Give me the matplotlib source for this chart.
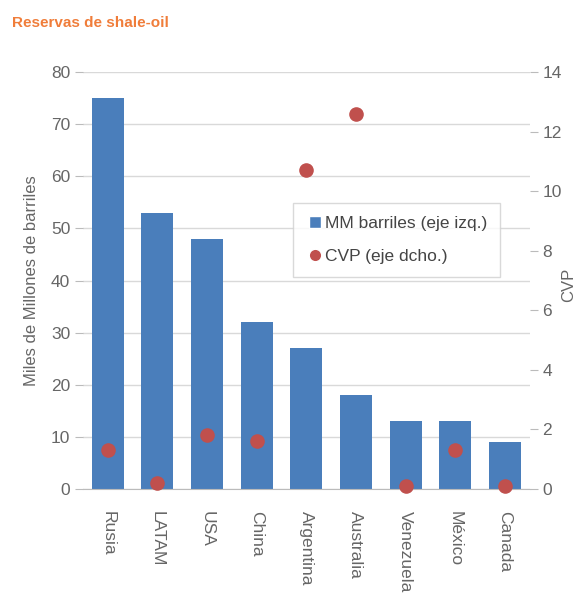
import matplotlib
matplotlib.use("Agg")
import matplotlib.pyplot as plt
from matplotlib.lines import Line2D

plt.rcParams['font.family'] = ['Liberation Sans', 'DejaVu Sans']

countries = ["Rusia", "LATAM", "USA", "China", "Argentina", "Australia", "Venezuela", "México", "Canada"]
reserves = [75, 53, 48, 32, 27, 18, 13, 13, 9]
cvp = [1.3, 0.2, 1.8, 1.6, 10.7, 12.6, 0.1, 1.3, 0.1]

blue = "#4A7EBB"
red = "#C0504D"
gray = "#666666"

fig = plt.figure(figsize=(5.79, 6.0), dpi=100)
ax = fig.add_axes([0.143, 0.185, 0.772, 0.695])
ax2 = ax.twinx()

x = list(range(len(countries)))
ax.bar(x, reserves, width=0.64, color=blue, zorder=2)
ax.set_xlim(-0.5, len(countries) - 0.5)
ax.set_ylim(0, 80)
ax.set_yticks(range(0, 81, 10))
ax.grid(axis='y', color="#d9d9d9", linewidth=1, zorder=0)
ax.set_axisbelow(True)
ax.set_xticks(x)
ax.set_xticklabels(countries, rotation=-90, fontsize=12.5, color=gray)
ax.tick_params(axis='x', length=0, pad=16)
ax.tick_params(axis='y', colors="#bbbbbb", labelcolor=gray, labelsize=12.5, length=6, pad=3)
for s in ['top', 'left', 'right']:
    ax.spines[s].set_visible(False)
ax.spines['bottom'].set_color("#bbbbbb")
ax.set_ylabel("Miles de Millones de barriles", fontsize=12, color=gray)
ax.yaxis.set_label_coords(-0.097, 0.5)

ax2.scatter(x, cvp, s=90, color=red, zorder=3, clip_on=False)
ax2.set_ylim(0, 14)
ax2.set_yticks(range(0, 15, 2))
ax2.tick_params(axis='y', colors="#bbbbbb", labelcolor=gray, labelsize=12.5, length=6, pad=3)
for s in ['top', 'left', 'right', 'bottom']:
    ax2.spines[s].set_visible(False)
ax2.set_ylabel("CVP", fontsize=12, color=gray)
ax2.yaxis.set_label_coords(1.07, 0.49)

handles = [Line2D([0], [0], marker='s', color='w', markerfacecolor=blue, markersize=9, label="MM barriles (eje izq.)"),
           Line2D([0], [0], marker='o', color='w', markerfacecolor=red, markersize=9, label="CVP (eje dcho.)")]
leg = ax2.legend(handles=handles, loc='upper left', bbox_to_anchor=(0.47, 0.686), borderaxespad=0,
                 fontsize=12.5, frameon=True, fancybox=False, edgecolor="#d0d0d0", handletextpad=0.1,
                 handlelength=1.0, borderpad=0.75, labelspacing=1.0)
for t in leg.get_texts():
    t.set_color("#444444")

fig.text(0.02, 0.962, "Reservas de shale-oil", fontsize=11, fontweight='bold', color="#F07D3A", va='center')

fig.savefig("out.png", dpi=100)
